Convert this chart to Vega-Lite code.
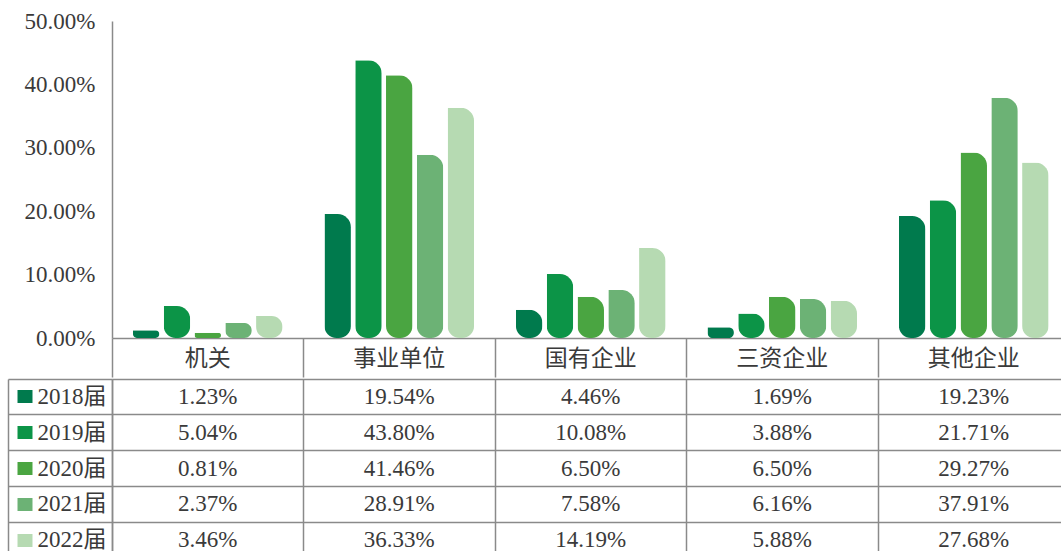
{
  "$schema": "https://vega.github.io/schema/vega-lite/v6.json",
  "padding": {"left": 7, "top": 10, "right": 0, "bottom": 0},
  "autosize": {"type": "pad"},
  "background": "white",
  "spacing": 0,
  "config": {
    "view": {"stroke": null},
    "font": "Liberation Serif, Noto Sans CJK SC",
    "axis": {"labelFont": "Liberation Serif, Noto Sans CJK SC", "labelColor": "#3a3a3a"}
  },
  "datasets": {
    "main": [
      {"cat": "机关", "year": "2018届", "value": 0.0123},
      {"cat": "机关", "year": "2019届", "value": 0.0504},
      {"cat": "机关", "year": "2020届", "value": 0.0081},
      {"cat": "机关", "year": "2021届", "value": 0.0237},
      {"cat": "机关", "year": "2022届", "value": 0.0346},
      {"cat": "事业单位", "year": "2018届", "value": 0.1954},
      {"cat": "事业单位", "year": "2019届", "value": 0.438},
      {"cat": "事业单位", "year": "2020届", "value": 0.4146},
      {"cat": "事业单位", "year": "2021届", "value": 0.2891},
      {"cat": "事业单位", "year": "2022届", "value": 0.3633},
      {"cat": "国有企业", "year": "2018届", "value": 0.0446},
      {"cat": "国有企业", "year": "2019届", "value": 0.1008},
      {"cat": "国有企业", "year": "2020届", "value": 0.065},
      {"cat": "国有企业", "year": "2021届", "value": 0.0758},
      {"cat": "国有企业", "year": "2022届", "value": 0.1419},
      {"cat": "三资企业", "year": "2018届", "value": 0.0169},
      {"cat": "三资企业", "year": "2019届", "value": 0.0388},
      {"cat": "三资企业", "year": "2020届", "value": 0.065},
      {"cat": "三资企业", "year": "2021届", "value": 0.0616},
      {"cat": "三资企业", "year": "2022届", "value": 0.0588},
      {"cat": "其他企业", "year": "2018届", "value": 0.1923},
      {"cat": "其他企业", "year": "2019届", "value": 0.2171},
      {"cat": "其他企业", "year": "2020届", "value": 0.2927},
      {"cat": "其他企业", "year": "2021届", "value": 0.3791},
      {"cat": "其他企业", "year": "2022届", "value": 0.2768}
    ]
  },
  "resolve": {"scale": {"x": "independent", "y": "independent", "color": "independent"}},
  "vconcat": [
    {
      "width": 957.5,
      "height": 317,
      "data": {"name": "main"},
      "mark": {"type": "bar", "cornerRadiusTopRight": 16, "cornerRadiusBottomLeft": 12, "cornerRadiusBottomRight": 12},
      "encoding": {
        "x": {
          "field": "cat", "type": "nominal",
          "sort": ["机关", "事业单位", "国有企业", "三资企业", "其他企业"],
          "scale": {"paddingInner": 0, "paddingOuter": 0},
          "axis": {
            "title": null, "bandPosition": 0, "tickSize": 39, "tickColor": "#8a8a8a", "tickWidth": 1.5,
            "domainColor": "#8a8a8a", "domainWidth": 1.5, "labelPadding": -19, "labelBaseline": "middle",
            "labelAngle": 0, "labelFont": "Noto Sans CJK SC", "labelFontSize": 23, "labelColor": "#3a3a3a"
          }
        },
        "xOffset": {"field": "year", "type": "nominal", "scale": {"paddingInner": 0.14, "paddingOuter": 0.68}},
        "y": {
          "field": "value", "type": "quantitative",
          "scale": {"domain": [0, 0.5], "nice": false},
          "axis": {
            "title": null, "values": [0, 0.1, 0.2, 0.3, 0.4, 0.5], "format": ".2%", "grid": false, "ticks": false,
            "domainColor": "#8a8a8a", "domainWidth": 1.5, "labelPadding": 17, "labelFontSize": 23
          }
        },
        "color": {
          "field": "year", "type": "nominal",
          "scale": {"domain": ["2018届", "2019届", "2020届", "2021届", "2022届"], "range": ["#007a4d", "#0c9447", "#4aa541", "#6cb275", "#b6dab2"]},
          "legend": null
        }
      }
    },
    {
      "width": 957.5,
      "height": 179,
      "data": {"name": "main"},
      "encoding": {
        "x": {
          "field": "cat", "type": "nominal",
          "sort": ["机关", "事业单位", "国有企业", "三资企业", "其他企业"],
          "scale": {"type": "band", "paddingInner": 0, "paddingOuter": 0},
          "axis": {"title": null, "labels": false, "ticks": false, "domain": false, "grid": true, "bandPosition": 0, "gridColor": "#8a8a8a", "gridWidth": 1.5, "gridOpacity": 1}
        }
      },
      "layer": [
        {
          "mark": {"type": "text", "opacity": 0},
          "encoding": {
            "y": {
              "field": "year", "type": "nominal", "sort": ["2018届", "2019届", "2020届", "2021届", "2022届"],
              "scale": {"type": "band", "paddingInner": 0, "paddingOuter": 0},
              "axis": {
                "orient": "left", "title": null, "offset": 80, "labels": false, "domain": false, "grid": false,
                "ticks": true, "tickSize": 15, "tickWidth": 13,
                "tickColor": {
                  "condition": [
                    {"test": "datum.value === '2018届'", "value": "#007a4d"},
                    {"test": "datum.value === '2019届'", "value": "#0c9447"},
                    {"test": "datum.value === '2020届'", "value": "#4aa541"},
                    {"test": "datum.value === '2021届'", "value": "#6cb275"}
                  ],
                  "value": "#b6dab2"
                }
              }
            },
            "text": {"field": "value", "type": "quantitative"}
          }
        },
        {
          "mark": {"type": "text", "fontSize": 23, "font": "Liberation Serif", "color": "#3a3a3a"},
          "encoding": {
            "y": {
              "field": "year", "type": "nominal", "sort": ["2018届", "2019届", "2020届", "2021届", "2022届"],
              "scale": {"type": "band", "paddingInner": 0, "paddingOuter": 0},
              "axis": {
                "orient": "left", "title": null, "bandPosition": 0, "grid": true, "gridColor": "#8a8a8a", "gridWidth": 1.5, "gridOpacity": 1,
                "ticks": true, "tickSize": 104, "tickColor": "#8a8a8a", "tickWidth": 1.5,
                "domain": true, "domainColor": "#8a8a8a", "domainWidth": 1.5,
                "labelPadding": -98, "labelAlign": "right", "labelBaseline": "middle", "labelFontSize": 23
              }
            },
            "text": {"field": "value", "type": "quantitative", "format": ".2%"}
          }
        },
        {
          "mark": {"type": "text", "opacity": 0},
          "encoding": {
            "y": {
              "field": "year", "type": "nominal", "sort": ["2018届", "2019届", "2020届", "2021届", "2022届"],
              "scale": {"type": "band", "paddingInner": 0, "paddingOuter": 0},
              "axis": {
                "orient": "left", "title": null, "offset": 104, "labels": false, "ticks": false, "grid": false,
                "domain": true, "domainColor": "#8a8a8a", "domainWidth": 1.5
              }
            },
            "text": {"field": "value", "type": "quantitative"}
          }
        }
      ],
      "resolve": {"axis": {"y": "independent"}}
    }
  ]
}
